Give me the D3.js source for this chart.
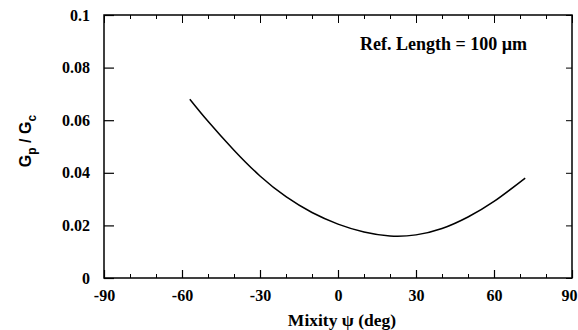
<!doctype html>
<html>
<head>
<script src="https://cdnjs.cloudflare.com/ajax/libs/d3/7.8.5/d3.min.js"></script>
<style>
  body { margin: 0; background: #fff; }
  svg text { font-family: "Liberation Serif", "Times New Roman", serif; font-weight: bold; fill: #000; }
</style>
</head>
<body>
<svg width="578" height="330"></svg>
<script>
// mixity angle (deg) and Gp/Gc
var mixity = [-57, -50, -40, -30, -20, -10, 0, 10, 20, 30, 40, 50, 60, 72];
var ratio = [0.068, 0.0596, 0.0486, 0.0388, 0.0309, 0.0249, 0.0205, 0.0175, 0.016, 0.0164, 0.0188, 0.0232, 0.0291, 0.038];
var xTicks = [-90, -60, -30, 0, 30, 60, 90];
var yTicks = [0, 0.02, 0.04, 0.06, 0.08, 0.1];
var xMinor = d3.range(-80, 90, 10).filter(function(d) { return d % 30 != 0; });

var svg = d3.select("svg");
var pl = 104, pr = 572, pt = 15, pb = 278;

var x = d3.scaleLinear().domain([-90, 90]).range([pl, pr]);
var y = d3.scaleLinear().domain([0, 0.1]).range([pb, pt]);

// frame
svg.append("rect")
  .attr("x", pl).attr("y", pt)
  .attr("width", pr - pl).attr("height", pb - pt)
  .attr("fill", "none").attr("stroke", "#000").attr("stroke-width", 1.5);

// bottom axis
var xAxis = d3.axisBottom(x).tickValues(xTicks).tickSizeInner(-8).tickSizeOuter(0).tickPadding(12)
  .tickFormat(function(d) { return d; });
var gx = svg.append("g").attr("transform", "translate(0," + pb + ")").call(xAxis);
gx.select(".domain").remove();
gx.selectAll("text").style("font-size", "16px");
gx.selectAll("line").attr("stroke-width", 1.2);
gx.selectAll(".tick").filter(function(d) { return d == 90; }).select("text").attr("x", -3);

var gxm = svg.append("g").attr("transform", "translate(0," + pb + ")")
  .call(d3.axisBottom(x).tickValues(xMinor).tickSize(-4).tickFormat(""));
gxm.select(".domain").remove();

// top ticks
var gt = svg.append("g").attr("transform", "translate(0," + pt + ")")
  .call(d3.axisTop(x).tickValues(xTicks).tickSize(-8).tickFormat(""));
gt.select(".domain").remove();
var gtm = svg.append("g").attr("transform", "translate(0," + pt + ")")
  .call(d3.axisTop(x).tickValues(xMinor).tickSize(-4).tickFormat(""));
gtm.select(".domain").remove();

// left axis
var yAxis = d3.axisLeft(y).tickValues(yTicks).tickSizeInner(-10).tickSizeOuter(0).tickPadding(14)
  .tickFormat(function(d) { return d == 0 ? "0" : d == 0.1 ? "0.1" : d3.format(".2f")(d); });
var gy = svg.append("g").attr("transform", "translate(" + pl + ",0)").call(yAxis);
gy.select(".domain").remove();
gy.selectAll("text").style("font-size", "16px");
gy.selectAll("line").attr("stroke-width", 1.2);

// right ticks
var gr = svg.append("g").attr("transform", "translate(" + pr + ",0)")
  .call(d3.axisRight(y).tickValues(yTicks).tickSize(-6).tickFormat(""));
gr.select(".domain").remove();

// curve
var line = d3.line()
  .x(function(d, i) { return x(mixity[i]); })
  .y(function(d) { return y(d); })
  .curve(d3.curveNatural);
svg.append("path")
  .attr("d", line(ratio))
  .attr("fill", "none").attr("stroke", "#000").attr("stroke-width", 1.5);

// annotation
svg.append("text").attr("x", 360).attr("y", 50).style("font-size", "18px")
  .text("Ref. Length = 100 \u00b5m");

// x label
svg.append("text").attr("x", 342).attr("y", 326).attr("text-anchor", "middle")
  .style("font-size", "17.5px").text("Mixity \u03c8 (deg)");

// y label
var yl = svg.append("text").attr("transform", "translate(31,141) rotate(-90)")
  .attr("text-anchor", "middle")
  .style("font-family", "'Liberation Sans', Arial, sans-serif").style("font-size", "16px");
yl.append("tspan").text("G");
yl.append("tspan").attr("dy", 5).style("font-size", "12px").text("p");
yl.append("tspan").attr("dy", -5).text(" / G");
yl.append("tspan").attr("dy", 5).style("font-size", "12px").text("c");
</script>
</body>
</html>
